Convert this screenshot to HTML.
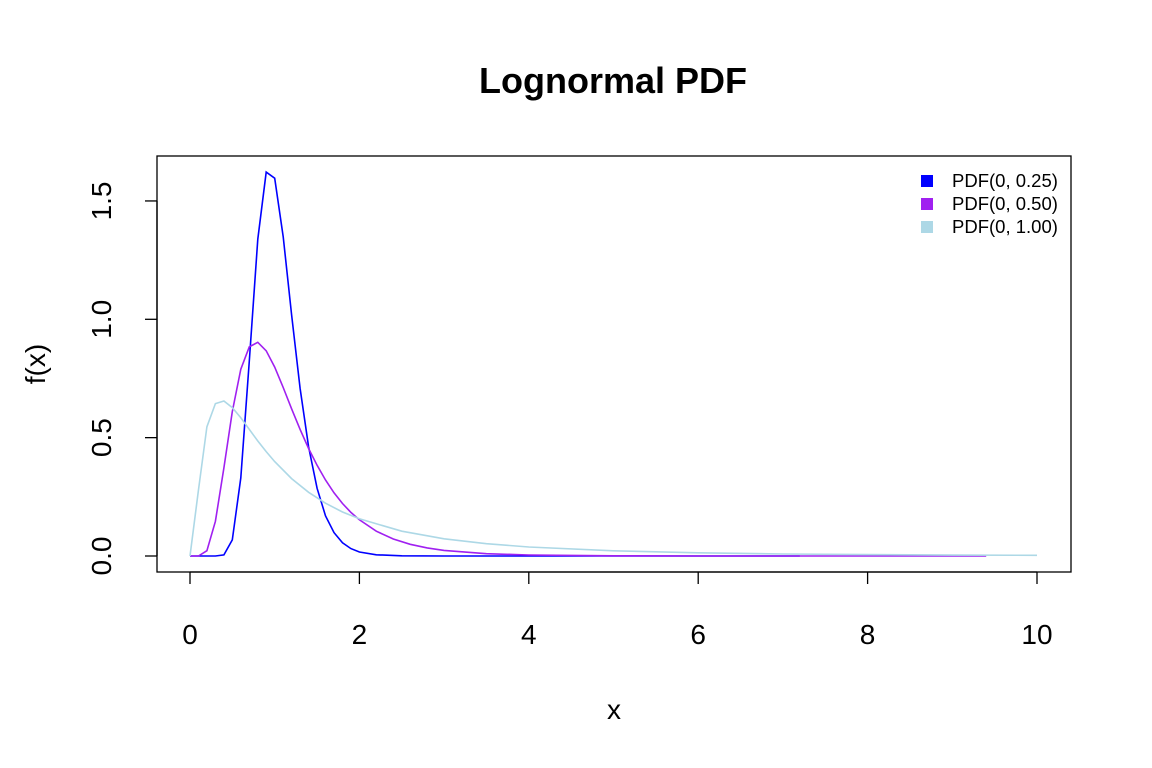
<!DOCTYPE html>
<html><head><meta charset="utf-8"><style>
body{margin:0;background:#fff;}
svg{display:block;font-family:"Liberation Sans",Arial,sans-serif;}
</style></head><body>
<svg id="chart" width="1152" height="768">
<text x="613" y="93" text-anchor="middle" font-size="36" font-weight="bold">Lognormal PDF</text>
<rect x="157" y="156" width="914" height="416" fill="none" stroke="#000" stroke-width="1.3"/>
<g id="xaxis"></g>
<g id="yaxis"></g>
<text x="614" y="719" text-anchor="middle" font-size="28">x</text>
<text transform="translate(45,364) rotate(-90)" text-anchor="middle" font-size="28">f(x)</text>
<g id="series"></g>
<g id="legend"></g>
</svg>
<script>
const xTicks=[0,2,4,6,8,10];
const yTicks=[0,0.5,1.0,1.5];
const yTickLabels=["0.0","0.5","1.0","1.5"];
const seriesNames=["PDF(0, 0.25)","PDF(0, 0.50)","PDF(0, 1.00)"];
const seriesColors=["#0000FF","#A020F0","#ADD8E6"];
const x1=[0,0.1,0.2,0.3,0.4,0.5,0.6,0.7,0.8,0.9,1.0,1.1,1.2,1.3,1.4,1.5,1.6,1.7,1.8,1.9,2.0,2.2,2.5,3.0,7.2];
const y1=[0,0,0,0,0.0048,0.068,0.330,0.824,1.339,1.622,1.596,1.349,1.019,0.708,0.461,0.286,0.170,0.0987,0.0559,0.0311,0.0171,0.0050,0.0008,0,0];
const x2=[0,0.1,0.2,0.3,0.4,0.5,0.6,0.7,0.8,0.9,1.0,1.1,1.2,1.3,1.4,1.5,1.6,1.7,1.8,1.9,2.0,2.2,2.4,2.6,2.8,3.0,3.5,4.0,5.0,6.0,9.4];
const y2=[0,0.0002,0.0225,0.1465,0.372,0.610,0.789,0.884,0.903,0.867,0.798,0.712,0.622,0.535,0.454,0.383,0.321,0.267,0.222,0.184,0.153,0.1046,0.0718,0.0494,0.0342,0.0238,0.0099,0.0043,0.0008,0,0];
const x3=[0,0.1,0.2,0.3,0.4,0.5,0.6,0.7,0.8,0.9,1.0,1.2,1.4,1.6,1.8,2.0,2.5,3.0,3.5,4.0,5.0,6.0,7.0,8.0,9.0,10.0];
const y3=[0,0.28,0.546,0.644,0.655,0.627,0.584,0.535,0.486,0.441,0.399,0.327,0.269,0.223,0.186,0.157,0.1049,0.0727,0.052,0.0381,0.0219,0.01335,0.00858,0.00574,0.00397,0.00282];
const seriesX=[x1,x2,x3], seriesY=[y1,y2,y3];
const NS="http://www.w3.org/2000/svg";
function sx(v){return 190+v*84.7;}
function sy(v){return 556-v*236.7;}
function mk(t,a,p){const e=document.createElementNS(NS,t);for(const k in a)e.setAttribute(k,a[k]);p.appendChild(e);return e;}
const xa=document.getElementById('xaxis');
mk('line',{x1:sx(0),x2:sx(10),y1:572,y2:572,stroke:'#000','stroke-width':1.3},xa);
xTicks.forEach(t=>{
 const l=mk('line',{x1:sx(t),x2:sx(t),y1:572,y2:584,stroke:'#000','stroke-width':1.3},xa);
 
 
 const tx=mk('text',{x:sx(t),y:644,'text-anchor':'middle','font-size':28},xa);
 tx.textContent=t;
 
 
});
const ya=document.getElementById('yaxis');
mk('line',{x1:157,x2:157,y1:sy(0),y2:sy(1.5),stroke:'#000','stroke-width':1.3},ya);
yTicks.forEach((t,i)=>{
 const l=mk('line',{x1:145,x2:157,y1:sy(t),y2:sy(t),stroke:'#000','stroke-width':1.3},ya);
 
 
 const tx=mk('text',{transform:`translate(111,${sy(t)}) rotate(-90)`,'text-anchor':'middle','font-size':28},ya);
 tx.textContent=yTickLabels[i];
 
 
});
const sg=document.getElementById('series');
seriesX.forEach((xs,i)=>{
 const pts=xs.map((x,j)=>sx(x).toFixed(1)+','+sy(seriesY[i][j]).toFixed(1)).join(' ');
 const p=mk('polyline',{points:pts,fill:'none',stroke:seriesColors[i],'stroke-width':1.6},sg);
 
 
});
const lg=document.getElementById('legend');
seriesNames.forEach((n,i)=>{
 const y=181+i*23;
 const r=mk('rect',{x:921,y:y-6,width:12,height:12,fill:seriesColors[i]},lg);
 
 
 const t=mk('text',{x:952,y:y+6,'font-size':18.5},lg);
 t.textContent=n;
 
 
});
</script>
</body></html>
